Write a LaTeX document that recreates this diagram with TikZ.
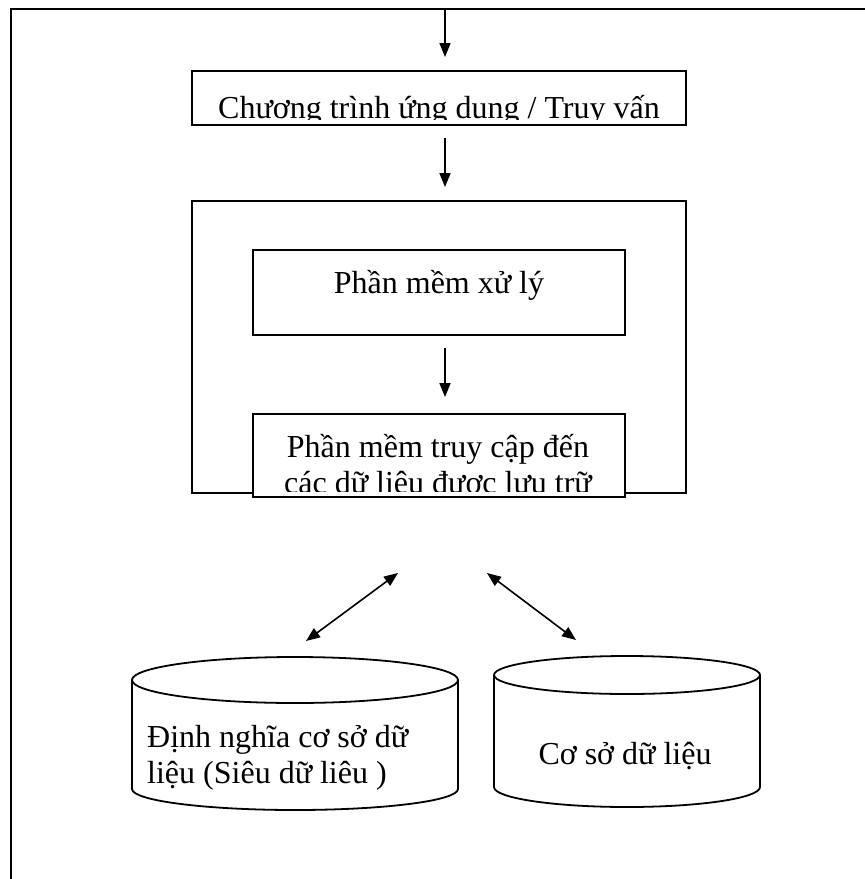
\documentclass[tikz,border=0pt]{standalone}
\usepackage{fontspec}
\setmainfont{Liberation Serif}
\usetikzlibrary{arrows.meta}
\begin{document}
\begin{tikzpicture}[x=1pt,y=-1pt,
  frame/.style={line width=2pt},
  boxn/.style={draw, line width=1.9pt, fill=white, inner sep=0pt},
  lbl/.style={font=\fontsize{32}{38}\selectfont, inner sep=0pt},
  cyl/.style={line width=1.8pt},
  arr/.style={line width=1.6pt, -{Triangle[length=14pt,width=11pt]}},
  darr/.style={line width=1.6pt, {Triangle[length=14pt,width=11pt]}-{Triangle[length=14pt,width=11pt]}}]
\useasboundingbox (0,0) rectangle (865,879);
% page frame (top and left)
\draw[frame] (865,9) -- (11,9) -- (11,879);
% application box
\node[boxn, minimum width=494pt, minimum height=54pt] (app) at (439,98) {};
\begin{scope}
  \clip (193,72) rectangle (685,119);
  \node[lbl, anchor=base] (apptxt) at (439,118) {Chương trình ứng dụng / Truy vấn};
\end{scope}
\coordinate (in) at (445,9);
\draw[arr, shorten >=13pt] (in) -- (in |- app.north);
% DBMS outer box
\node[boxn, minimum width=494pt, minimum height=292pt] (dbms) at (439,347) {};
\draw[arr, shorten <=12pt, shorten >=13pt] (app.south -| in) -- (in |- dbms.north);
% processing box
\node[boxn, minimum width=372pt, minimum height=85pt] (proc) at (439,292.5) {};
\node[lbl, anchor=base] (proctxt) at (439,293) {Phần mềm xử lý};
% access box
\node[boxn, minimum width=372pt, minimum height=83pt] (acc) at (439,455.5) {};
\node[lbl, anchor=base] (acctxt1) at (438,457) {Phần mềm truy cập đến};
\begin{scope}
  \clip (254,415) rectangle (624,491);
  \node[lbl, anchor=base] (acctxt2) at (438,493) {các dữ liệu được lưu trữ};
\end{scope}
\draw[arr, shorten <=12pt, shorten >=16pt] (proc.south -| in) -- (in |- acc.north);
% left cylinder (metadata)
\draw[cyl, fill=white] (295,680) ellipse [x radius=163, y radius=23];
\draw[cyl] (132,680) -- (132,789) arc[start angle=180, end angle=0, x radius=163, y radius=21] -- (458,680);
\node[lbl, anchor=base west] (meta1) at (147,747) {Định nghĩa cơ sở dữ};
\node[lbl, anchor=base west] (meta2) at (147,783) {liệu (Siêu dữ liêu )};
% right cylinder (database)
\draw[cyl, fill=white] (627,675) ellipse [x radius=133, y radius=19];
\draw[cyl] (494,675) -- (494,787) arc[start angle=180, end angle=0, x radius=133, y radius=20] -- (760,675);
\node[lbl, anchor=base] (dbtxt) at (625,764) {Cơ sở dữ liệu};
% double arrows
\coordinate (la) at (398,573);
\coordinate (lb) at (306,641);
\coordinate (ra) at (487,573);
\coordinate (rb) at (576,640);
\draw[darr] (la) -- (lb);
\draw[darr] (ra) -- (rb);
\end{tikzpicture}
\end{document}
